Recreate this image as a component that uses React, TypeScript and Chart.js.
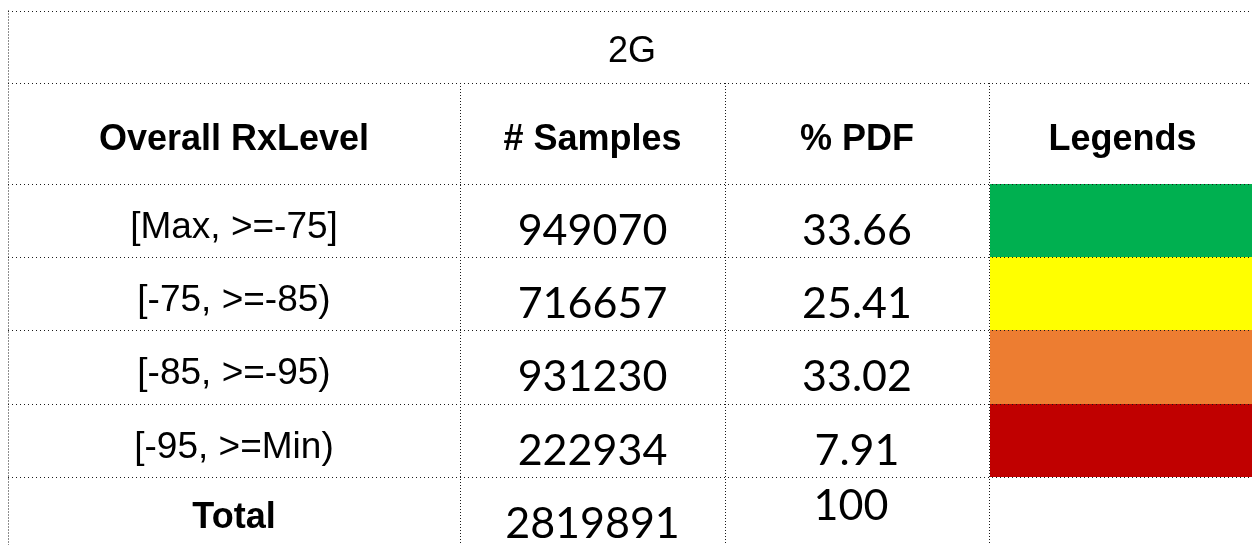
import React, { useEffect, useRef } from "react";
import { Chart, registerables } from "chart.js";

Chart.register(...registerables);

// ---------- data ----------
const title = "2G";
const headers = ["Overall RxLevel", "# Samples", "% PDF", "Legends"];
const categories = ["[Max, >=-75]", "[-75, >=-85)", "[-85, >=-95)", "[-95, >=Min)"];
const samples = [949070, 716657, 931230, 222934];
const pdf = [33.66, 25.41, 33.02, 7.91];
const legendColors = ["#00B050", "#FFFF00", "#ED7D31", "#C00000"];
const totalLabel = "Total";
const totalSamples = 2819891;
const totalPdf = 100;

// ---------- layout (table units) ----------
const W = 1252;
const H = 545;
const COL_EDGES = [8, 460, 725, 989, 1256];
const TOP = 10.5;
const TITLE_BOTTOM = 83;
const HEADER_BOTTOM = 183.5;
const ROW_H = 73.4;

const FONT_ARIAL = '"Liberation Sans", Arial, sans-serif';
const FONT_NUM = 'Lato, "Open Sans", sans-serif';
const LINE_COLOR = "#1a1a1a";

const tablePlugin = {
  id: "tablePlugin",
  afterDraw(chart: any) {
    const ctx: CanvasRenderingContext2D = chart.ctx;
    const xs = chart.scales.x;
    const ys = chart.scales.y;
    const px = (v: number) => xs.getPixelForValue(v);
    const py = (v: number) => ys.getPixelForValue(v);
    const nRows = categories.length;
    const rowTop = (i: number) => HEADER_BOTTOM + i * ROW_H;
    const colMid = (c: number) => (px(COL_EDGES[c]) + px(COL_EDGES[c + 1])) / 2;

    ctx.save();
    ctx.fillStyle = "#ffffff";
    ctx.fillRect(0, 0, chart.width, chart.height);

    // legend colour cells
    legendColors.forEach((col, i) => {
      const x0 = Math.round(px(COL_EDGES[3]));
      const x1 = Math.round(px(COL_EDGES[4]));
      const y0 = Math.round(py(rowTop(i)));
      const y1 = Math.round(py(rowTop(i + 1)));
      ctx.fillStyle = col;
      ctx.fillRect(x0 + 1, y0, x1 - x0, y1 - y0);
    });

    // dotted grid
    ctx.strokeStyle = LINE_COLOR;
    ctx.lineWidth = 1;
    const hLine = (yv: number) => {
      const y = Math.round(py(yv)) + 0.5;
      ctx.setLineDash([1, 3]);
      ctx.beginPath();
      ctx.moveTo(px(COL_EDGES[0]), y);
      ctx.lineTo(px(COL_EDGES[4]), y);
      ctx.stroke();
    };
    const vLine = (xv: number, y0v: number, y1v: number) => {
      const x = Math.round(px(xv)) + 0.5;
      ctx.setLineDash([1, 2]);
      ctx.beginPath();
      ctx.moveTo(x, py(y0v));
      ctx.lineTo(x, py(y1v));
      ctx.stroke();
    };
    hLine(TOP);
    hLine(TITLE_BOTTOM);
    hLine(HEADER_BOTTOM);
    for (let i = 1; i <= nRows; i++) hLine(rowTop(i));
    vLine(COL_EDGES[0], TOP, H);
    for (let c = 1; c < COL_EDGES.length - 1; c++) vLine(COL_EDGES[c], TITLE_BOTTOM, H);
    ctx.setLineDash([]);

    // texts
    ctx.fillStyle = "#000";
    ctx.textAlign = "center";
    ctx.textBaseline = "alphabetic";

    ctx.font = `36px ${FONT_ARIAL}`;
    ctx.fillText(title, (px(COL_EDGES[0]) + px(COL_EDGES[4])) / 2, py(TOP + 51));

    ctx.font = `bold 36px ${FONT_ARIAL}`;
    headers.forEach((h, c) => ctx.fillText(h, colMid(c), py(TITLE_BOTTOM + 67)));

    categories.forEach((lab, i) => {
      ctx.font = `37px ${FONT_ARIAL}`;
      ctx.fillText(lab, colMid(0), py(rowTop(i) + 54));
      ctx.font = `43px ${FONT_NUM}`;
      ctx.fillText(String(samples[i]), colMid(1), py(rowTop(i) + 61));
      ctx.fillText(String(pdf[i]), colMid(2), py(rowTop(i) + 61));
    });

    const tTop = rowTop(nRows);
    ctx.font = `bold 36px ${FONT_ARIAL}`;
    ctx.fillText(totalLabel, colMid(0), py(tTop + 51));
    ctx.font = `43px ${FONT_NUM}`;
    ctx.fillText(String(totalSamples), colMid(1), py(tTop + 61));
    ctx.fillText(String(totalPdf), colMid(2) - 6, py(tTop + 43));

    ctx.restore();
  },
};

export default function App() {
  const ref = useRef<HTMLCanvasElement | null>(null);
  useEffect(() => {
    if (!ref.current) return;
    const chart = new Chart(ref.current, {
      type: "scatter",
      data: { datasets: [{ data: [], pointRadius: 0 }] },
      options: {
        animation: false,
        responsive: false,
        events: [],
        layout: { padding: 0 },
        plugins: { legend: { display: false }, tooltip: { enabled: false }, title: { display: false } },
        scales: {
          x: { type: "linear", min: 0, max: W, display: false },
          y: { type: "linear", min: 0, max: H, reverse: true, display: false },
        },
      },
      plugins: [tablePlugin],
    });
    return () => chart.destroy();
  }, []);
  return (
    <div style={{ position: "fixed", left: 0, top: 0, width: W, height: H, background: "#fff" }}>
      <canvas ref={ref} width={W} height={H} style={{ display: "block", width: W, height: H }} />
    </div>
  );
}
